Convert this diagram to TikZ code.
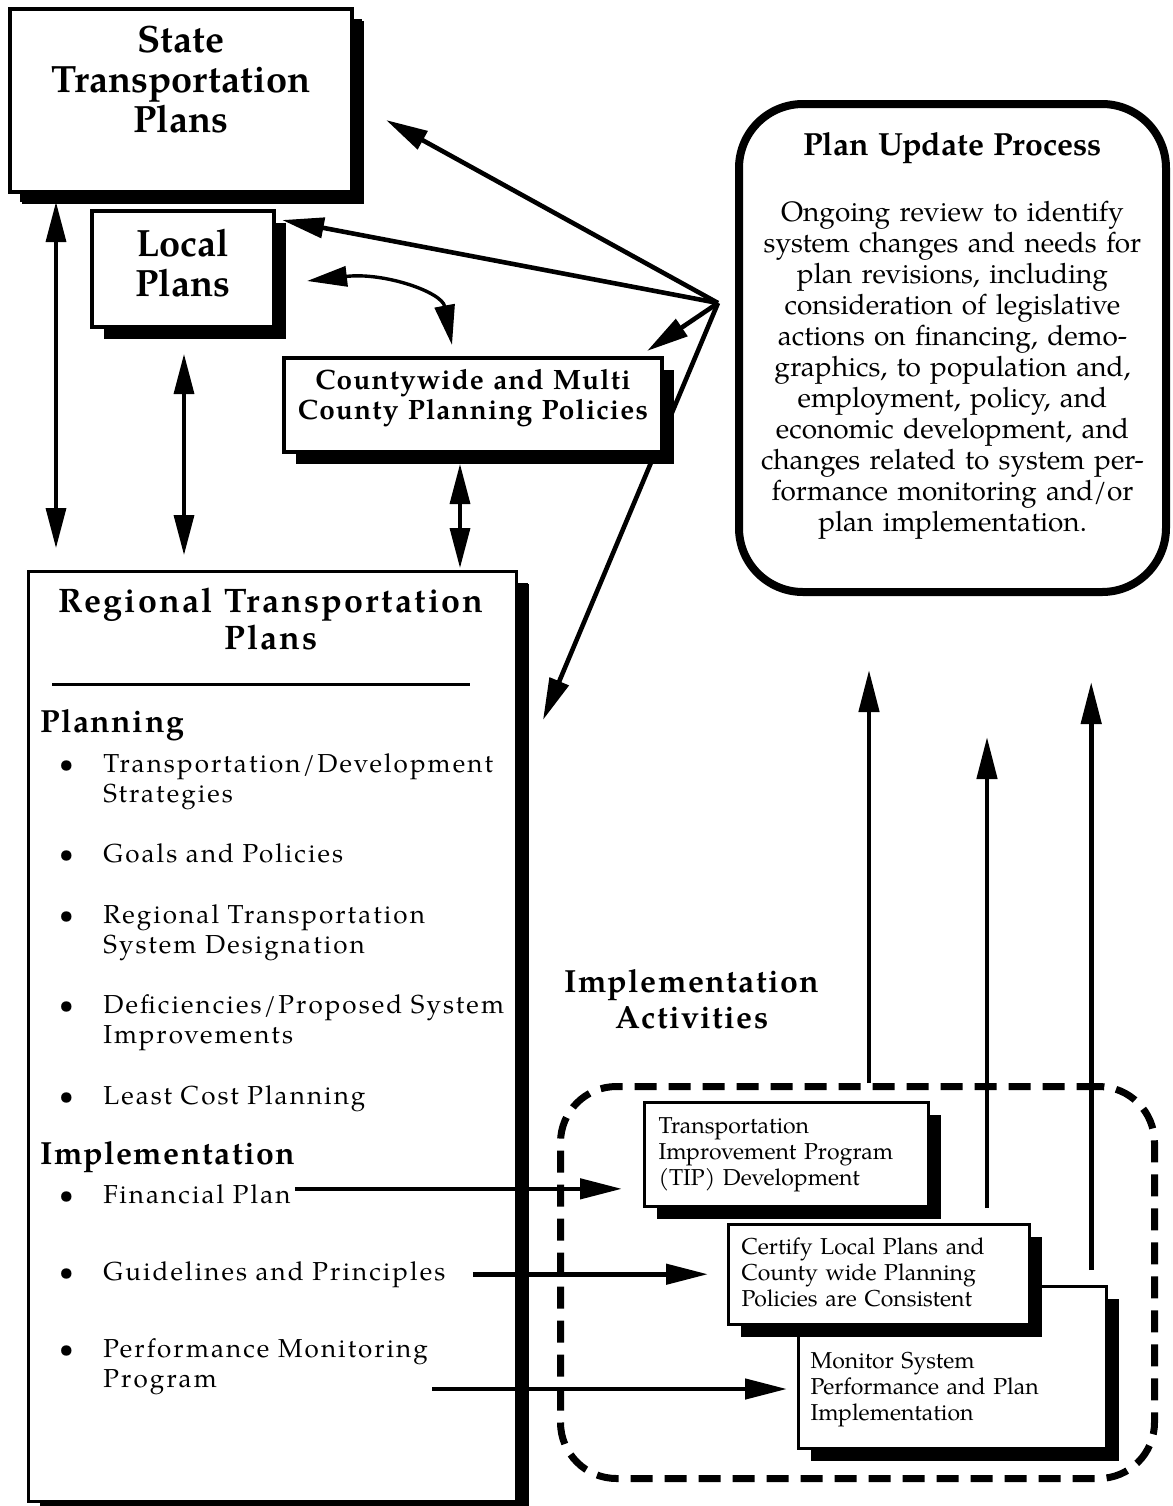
\documentclass[tikz,border=0pt]{standalone}
\usepackage{fontspec}
\setmainfont{TeX Gyre Pagella}
\newfontfamily\spacedfont{TeX Gyre Pagella}[LetterSpace=8]
\newfontfamily\titlefont{TeX Gyre Pagella}[LetterSpace=6.3]
\newfontfamily\headfont{TeX Gyre Pagella}[LetterSpace=4.5]
\newfontfamily\countyfont{TeX Gyre Pagella}[LetterSpace=4]
\usetikzlibrary{arrows.meta,shadows,backgrounds,positioning}

\newcommand{\bul}{\leavevmode\llap{\makebox[0pt]{\textbullet}\hspace{18.5pt}}}

\tikzset{
  planbox/.style={draw,line width=2pt,fill=white,anchor=north west,
    drop shadow={shadow xshift=6pt,shadow yshift=-6pt,fill=black,opacity=1}},
  headbox/.style={planbox,align=center,font=\fontsize{19}{20}\selectfont\bfseries,text height=14pt},
  smallbox/.style={planbox,line width=1.6pt,align=left,font=\fontsize{11.5}{13}\selectfont,text height=9pt},
  itemtext/.style={anchor=base west,inner sep=0pt,font=\spacedfont\fontsize{13}{15}\selectfont},
  itemlines/.style={itemtext,text width=220pt,align=left},
  sechead/.style={anchor=base west,inner sep=0pt,font=\headfont\bfseries\fontsize{16}{18}\selectfont},
  onearrow/.style={line width=2.3pt,-{Triangle[length=21pt,width=10pt]}},
  twoarrow/.style={line width=1.7pt,{Triangle[length=20pt,width=10pt]}-{Triangle[length=20pt,width=10pt]}}
}

\begin{document}
\begin{tikzpicture}[x=0.5pt,y=-0.5pt]
\useasboundingbox (0,0) rectangle (1173,1506);

% upper boxes
\node[headbox,drop shadow={shadow xshift=5pt,shadow yshift=-5pt,fill=black,opacity=1},
  text width=163pt,inner xsep=4pt,inner ysep=7.5pt,text depth=62.5pt] (state) at (8,7)
  {State\\Transportation\\Plans};
\node[headbox,text width=83pt,inner xsep=4pt,inner ysep=8.5pt,text depth=27pt] (local) at (90,209)
  {Local\\Plans};
\node[planbox,align=center,font=\countyfont\bfseries\fontsize{14}{15}\selectfont,
  text width=183pt,inner xsep=3pt,inner ysep=5.5pt,text height=10pt,text depth=26pt] (county) at (282,356)
  {Countywide and Multi\\County Planning Policies};

% plan update process
\node[draw,line width=4pt,rounded corners=32pt,anchor=north west,align=center,
  font=\fontsize{14}{15.5}\selectfont,text width=201.5pt,inner xsep=6pt,inner ysep=13.5pt,
  text height=12pt,text depth=205pt] (update) at (735,100)
  {{\bfseries\fontsize{16}{18}\selectfont Plan Update Process\par}\vspace{17.5pt}
   Ongoing review to identify\\system changes and needs for\\plan revisions, including\\
   consideration of legislative\\actions on financing, demo-\\graphics, to population and,\\
   employment, policy, and\\economic development, and\\changes related to system per-\\
   formance monitoring and/or\\plan implementation.};

% regional transportation plans
\node[planbox,line width=1.5pt,minimum width=244pt,minimum height=465pt,
  drop shadow={shadow xshift=5.5pt,shadow yshift=-5.5pt,fill=black,opacity=1}] (regional) at (27,570) {};
\node[anchor=base,align=center,text width=235pt,inner sep=0pt,
  font=\titlefont\bfseries\fontsize{17}{18.5}\selectfont] (regtitle) at (271,612)
  {Regional Transportation\\Plans};
\draw[line width=1.5pt] (52,684) -- (470,684);
\node[sechead] (planhead) at (40,732) {Planning};
\node[itemlines] (strat) at (103,772) {\bul Transportation/Development\\Strategies};
\node[itemtext] (goals) at (103,862) {\bul Goals and Policies};
\node[itemlines] (desig) at (103,923) {\bul Regional Transportation\\System Designation};
\node[itemlines] (defic) at (103,1013) {\bul Deficiencies/Proposed System\\Improvements};
\node[itemtext] (leastcost) at (103,1104) {\bul Least Cost Planning};
\node[sechead] (implhead) at (40,1164) {Implementation};
\node[itemtext] (fin) at (103,1203) {\bul Financial Plan};
\node[itemtext] (guide) at (103,1280) {\bul Guidelines and Principles};
\node[itemlines] (perf) at (103,1357) {\bul Performance Monitoring\\Program};

% implementation activities
\node[anchor=base,align=center,text width=160pt,inner sep=0pt,
  font=\headfont\bfseries\fontsize{16}{18}\selectfont] (activ) at (692,992)
  {Implementation\\Activities};
\node[draw,line width=3.5pt,dash pattern=on 11pt off 6pt,rounded corners=28pt,anchor=north west,
  minimum width=297pt,minimum height=196pt] (impl) at (557,1083) {};
\node[smallbox,text width=128pt,inner xsep=7pt,inner ysep=6.5pt,text depth=30pt] (tip) at (643,1101)
  {Transportation\\Improvement Program\\(TIP) Development};
\node[smallbox,text width=142pt,inner xsep=6pt,inner ysep=32pt,text depth=8pt] (monitor) at (797,1285)
  {Monitor System\\Performance and Plan\\Implementation};
\node[smallbox,text width=137.5pt,inner xsep=6.5pt,inner ysep=6pt,text depth=29pt] (cert) at (727,1223)
  {Certify Local Plans and\\County wide Planning\\Policies are Consistent};

% connectors
\coordinate (hub) at (718,303);
\coordinate (stateout) at ([xshift=24pt,yshift=-4pt]state.south west);
\coordinate (localout) at ([xshift=47pt,yshift=-12.5pt]local.south west);
\coordinate (countyout) at ([xshift=89pt,yshift=-5pt]county.south west);
\coordinate (finout) at ([yshift=2.5pt]fin.east);
\coordinate (perfout) at (432,1389);
\coordinate (tipup) at ([xshift=156pt]impl.north west);
\coordinate (certup) at ([xshift=130pt,yshift=7.5pt]cert.north west);
\coordinate (monup) at ([xshift=-8.5pt,yshift=7.5pt]monitor.north east);
\begin{scope}[on background layer]
\draw[onearrow] (hub) -- ([xshift=12.5pt,yshift=-75pt]regional.north east);
\end{scope}
\draw[onearrow] (hub) -- ([xshift=16pt,yshift=-56.5pt]state.north east);
\draw[onearrow] (hub) -- ([xshift=3pt,yshift=-5.5pt]local.north east);
\draw[onearrow] (hub) -- ([xshift=-8.5pt,yshift=2.5pt]county.north east);
\draw[twoarrow] ([xshift=15.5pt,yshift=24pt]local.south east)
  .. controls +(77,-9) and +(-10,-53) .. ([xshift=-10.5pt,yshift=5.5pt]county.north);
\draw[twoarrow,shorten >=11pt] (stateout) -- (stateout |- regional.north);
\draw[twoarrow,shorten >=7.5pt] (localout) -- (localout |- regional.north);
\draw[twoarrow,shorten >=1pt] (countyout) -- (countyout |- regional.north);

\draw[onearrow,shorten <=2pt,shorten >=10.5pt] (finout) -- (finout -| tip.west);
\draw[onearrow,shorten <=13.5pt,shorten >=9.5pt] (guide.east) -- (guide.east -| cert.west);
\draw[onearrow,shorten >=5pt] (perfout) -- (perfout -| monitor.west);

\draw[onearrow,shorten >=37pt] (tipup) -- (tipup |- update.south);
\draw[onearrow,shorten >=70.5pt] (certup) -- (certup |- update.south);
\draw[onearrow,shorten >=43pt] (monup) -- (monup |- update.south);
\end{tikzpicture}
\end{document}
